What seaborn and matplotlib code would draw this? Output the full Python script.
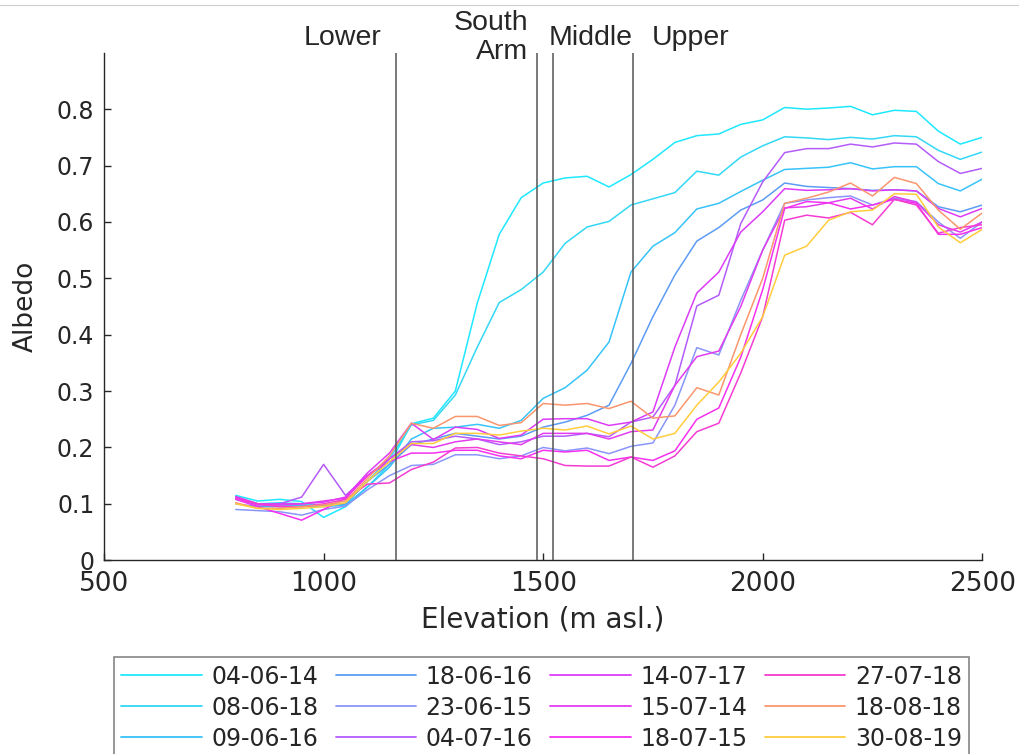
import numpy as np
import pandas as pd
import matplotlib
matplotlib.use('Agg')
import matplotlib.pyplot as plt
import seaborn as sns
from matplotlib.lines import Line2D
import matplotlib.transforms as mtransforms

elevation = [800, 850, 900, 950, 1000, 1050, 1100, 1150, 1200, 1250, 1300, 1350,
             1400, 1450, 1500, 1550, 1600, 1650, 1700, 1750, 1800, 1850, 1900, 1950,
             2000, 2050, 2100, 2150, 2200, 2250, 2300, 2350, 2400, 2450, 2500]

a_040614 = [0.115, 0.105, 0.108, 0.104, 0.076, 0.095, 0.13, 0.17, 0.242, 0.252, 0.30, 0.456,
            0.578, 0.643, 0.669, 0.678, 0.681, 0.662, 0.684, 0.711, 0.741, 0.753, 0.756, 0.773,
            0.781, 0.803, 0.80, 0.802, 0.805, 0.79, 0.798, 0.796, 0.761, 0.738, 0.75]
a_080618 = [0.112, 0.10, 0.102, 0.10, 0.098, 0.10, 0.14, 0.18, 0.24, 0.248, 0.293, 0.378,
            0.457, 0.48, 0.511, 0.562, 0.591, 0.601, 0.63, 0.641, 0.652, 0.69, 0.683, 0.715,
            0.735, 0.751, 0.749, 0.746, 0.75, 0.747, 0.753, 0.751, 0.727, 0.711, 0.724]
a_090616 = [0.108, 0.098, 0.098, 0.097, 0.095, 0.098, 0.13, 0.165, 0.215, 0.234, 0.236, 0.241,
            0.234, 0.248, 0.287, 0.306, 0.337, 0.387, 0.511, 0.557, 0.581, 0.623, 0.633, 0.654,
            0.674, 0.693, 0.695, 0.697, 0.705, 0.694, 0.698, 0.698, 0.668, 0.655, 0.676]
a_180616 = [0.10, 0.095, 0.095, 0.095, 0.097, 0.10, 0.14, 0.17, 0.205, 0.215, 0.225, 0.22,
            0.215, 0.22, 0.236, 0.245, 0.257, 0.275, 0.349, 0.432, 0.506, 0.566, 0.59, 0.621,
            0.639, 0.669, 0.663, 0.661, 0.659, 0.656, 0.657, 0.655, 0.627, 0.618, 0.63]
a_230615 = [0.09, 0.088, 0.086, 0.08, 0.09, 0.096, 0.125, 0.15, 0.168, 0.17, 0.187, 0.187,
            0.18, 0.185, 0.20, 0.194, 0.199, 0.189, 0.202, 0.208, 0.275, 0.377, 0.364, 0.461,
            0.55, 0.633, 0.639, 0.643, 0.646, 0.63, 0.642, 0.636, 0.60, 0.571, 0.60]
a_040716 = [0.112, 0.10, 0.10, 0.112, 0.17, 0.115, 0.15, 0.18, 0.21, 0.212, 0.22, 0.215,
            0.205, 0.21, 0.22, 0.22, 0.225, 0.219, 0.245, 0.254, 0.31, 0.451, 0.47, 0.597,
            0.671, 0.723, 0.73, 0.73, 0.738, 0.733, 0.74, 0.738, 0.707, 0.686, 0.695]
a_140717 = [0.113, 0.10, 0.10, 0.10, 0.103, 0.112, 0.155, 0.19, 0.243, 0.214, 0.236, 0.232,
            0.216, 0.222, 0.25, 0.251, 0.251, 0.239, 0.245, 0.263, 0.378, 0.474, 0.511, 0.582,
            0.618, 0.659, 0.656, 0.657, 0.659, 0.655, 0.657, 0.655, 0.624, 0.609, 0.624]
a_150714 = [0.11, 0.098, 0.098, 0.10, 0.105, 0.11, 0.15, 0.18, 0.205, 0.20, 0.21, 0.215,
            0.21, 0.205, 0.225, 0.225, 0.225, 0.215, 0.228, 0.231, 0.31, 0.361, 0.371, 0.45,
            0.55, 0.625, 0.627, 0.634, 0.642, 0.623, 0.645, 0.635, 0.595, 0.582, 0.60]
a_180715 = [0.108, 0.095, 0.083, 0.071, 0.09, 0.11, 0.15, 0.175, 0.19, 0.19, 0.195, 0.195,
            0.185, 0.18, 0.195, 0.192, 0.195, 0.177, 0.183, 0.177, 0.194, 0.25, 0.27, 0.36,
            0.48, 0.624, 0.636, 0.634, 0.623, 0.63, 0.64, 0.633, 0.578, 0.578, 0.59]
a_270718 = [0.11, 0.10, 0.095, 0.095, 0.10, 0.108, 0.135, 0.137, 0.161, 0.174, 0.199, 0.20,
            0.19, 0.185, 0.18, 0.168, 0.167, 0.167, 0.183, 0.165, 0.185, 0.228, 0.243, 0.332,
            0.432, 0.603, 0.612, 0.607, 0.617, 0.595, 0.64, 0.63, 0.58, 0.59, 0.595]
a_180818 = [0.102, 0.092, 0.092, 0.095, 0.098, 0.105, 0.145, 0.185, 0.243, 0.234, 0.255, 0.255,
            0.239, 0.244, 0.278, 0.275, 0.278, 0.269, 0.282, 0.252, 0.256, 0.306, 0.293, 0.40,
            0.50, 0.633, 0.642, 0.653, 0.669, 0.646, 0.679, 0.668, 0.621, 0.587, 0.616]
a_300819 = [0.10, 0.092, 0.09, 0.092, 0.095, 0.102, 0.14, 0.175, 0.207, 0.207, 0.225, 0.225,
            0.222, 0.229, 0.234, 0.231, 0.238, 0.224, 0.238, 0.215, 0.225, 0.275, 0.316, 0.367,
            0.432, 0.541, 0.557, 0.603, 0.618, 0.621, 0.65, 0.649, 0.591, 0.563, 0.587]

dates = ['04-06-14', '08-06-18', '09-06-16', '18-06-16', '23-06-15', '04-07-16',
         '14-07-17', '15-07-14', '18-07-15', '27-07-18', '18-08-18', '30-08-19']
series = [a_040614, a_080618, a_090616, a_180616, a_230615, a_040716,
          a_140717, a_150714, a_180715, a_270718, a_180818, a_300819]
colours = ['#1ee8ff', '#33d8f5', '#38c3fa', '#5c9cf5', '#8a95fa', '#b45cfa',
           '#dc3cf8', '#e33cf0', '#f530f0', '#f53cd2', '#fa966e', '#ffcd3c']

# zone boundaries (m asl.)
zone_bounds = [1165, 1485, 1522, 1705]
zone_names = ['Lower', 'South\nArm', 'Middle', 'Upper']
zone_x = [1044, 1466, 1609, 1835]

rows = []
for d, vals in zip(dates, series):
    for e, v in zip(elevation, vals):
        rows.append((d, e, v))
df = pd.DataFrame(rows, columns=['date', 'elevation', 'albedo'])

sns.set_style('ticks')
plt.rcParams['font.family'] = ['DejaVu Sans']

fig = plt.figure(figsize=(10.2, 7.54), dpi=100)
ax = fig.add_axes([0.102, 0.257, 0.861, 0.673])

sns.lineplot(data=df, x='elevation', y='albedo', hue='date', hue_order=dates,
             palette=dict(zip(dates, colours)), estimator=None, linewidth=1.1, ax=ax,
             legend=False)

for b in zone_bounds:
    ax.axvline(b, color='#555555', lw=1.1, zorder=3)

trans = mtransforms.blended_transform_factory(ax.transData, ax.transAxes)
for name, xz in zip(zone_names, zone_x):
    ha = 'right' if 'Arm' in name else 'center'
    ax.text(xz, 1.03, name, transform=trans, ha=ha, va='center', fontsize=20.5,
            family='Liberation Sans', multialignment='right', linespacing=1.15)

ax.set_xlim(500, 2500)
ax.set_ylim(0, 0.9)
ax.set_xticks([500, 1000, 1500, 2000, 2500])
ax.set_yticks([0, 0.1, 0.2, 0.3, 0.4, 0.5, 0.6, 0.7, 0.8])
ax.set_yticklabels(['0', '0.1', '0.2', '0.3', '0.4', '0.5', '0.6', '0.7', '0.8'])
ax.tick_params(direction='in', length=5, width=1, colors='#262626',
               labelcolor='#262626')
ax.tick_params(axis='x', pad=8, labelsize=19)
ax.tick_params(axis='y', pad=7, labelsize=17)
for s in ['top', 'right']:
    ax.spines[s].set_visible(False)
for s in ['left', 'bottom']:
    ax.spines[s].set_color('#262626')
    ax.spines[s].set_linewidth(1.0)
ax.set_xlabel('Elevation (m asl.)', fontsize=20, color='#262626', labelpad=6)
ax.set_ylabel('Albedo', fontsize=19, color='#262626', labelpad=13)

handles = [Line2D([0], [0], color=c, lw=1.3) for c in colours]
leg = fig.legend(handles, dates, ncol=4, loc='upper center',
                 bbox_to_anchor=(0.531, 0.128), fontsize=17, frameon=True,
                 fancybox=False, handlelength=3.4, handletextpad=0.4,
                 columnspacing=0.75, labelspacing=0.3, borderpad=0.3,
                 borderaxespad=0)
leg.get_frame().set_edgecolor('#666666')
leg.get_frame().set_linewidth(1.2)

fig.add_artist(Line2D([0, 1], [1 - 5 / 754, 1 - 5 / 754], color='#cccccc', lw=0.8))

fig.savefig('out.png', dpi=100)
